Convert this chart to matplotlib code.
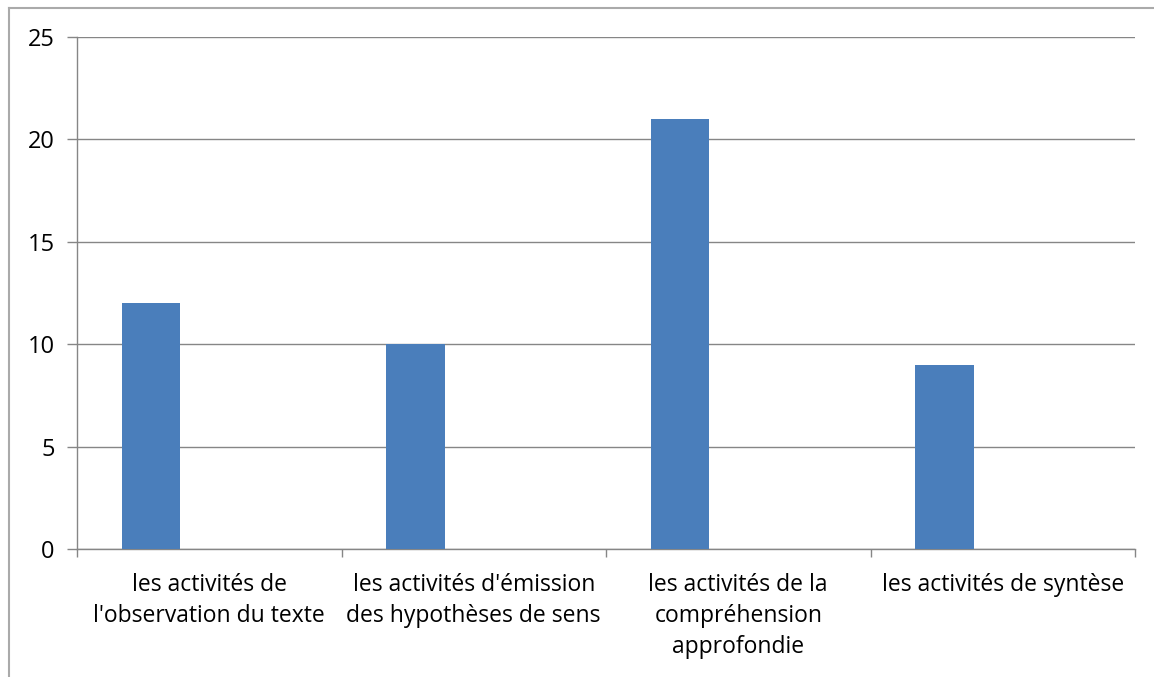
import numpy as np
import matplotlib.pyplot as plt
from matplotlib.lines import Line2D

categories = ["les activités de\nl'observation du texte",
              "les activités d'émission\ndes hypothèses de sens",
              "les activités de la\ncompréhension\napprofondie",
              "les activités de syntèse"]
values = [12, 10, 21, 9]
yticks = [0, 5, 10, 15, 20, 25]

plt.rcParams['font.family'] = ['Open Sans', 'DejaVu Sans']

fig = plt.figure(figsize=(11.54, 6.77), dpi=100)
ax = fig.add_axes([77/1154, 1-549/677, (1135-77)/1154, (549-37)/677])

x = np.arange(len(categories))
ax.bar(x + 0.28, values, width=0.222, color='#4a7ebb', zorder=3)

ax.set_xlim(0, len(categories))
ax.set_ylim(0, 25)
ax.set_yticks(yticks)
ax.set_yticklabels([str(v) for v in yticks], fontsize=17)
ax.yaxis.grid(True, color='#868686', linewidth=1.0, zorder=0)

ax.set_xticks(np.arange(len(categories) + 1))
ax.set_xticklabels([])
ax.set_xticks(x + 0.5, minor=True)
ax.set_xticklabels(categories, minor=True, fontsize=16.5, linespacing=1.4, va='top')
ax.tick_params(axis='x', which='minor', length=0, pad=17)
ax.tick_params(axis='x', which='major', length=6, color='#868686', width=1.0, direction='out')
ax.tick_params(axis='y', length=7, color='#868686', width=1.0, pad=9)

for s in ['top', 'right']:
    ax.spines[s].set_visible(False)
for s in ['left', 'bottom']:
    ax.spines[s].set_color('#868686')
    ax.spines[s].set_linewidth(1.0)

# chart frame (cut off on right and bottom)
fig.add_artist(Line2D([9/1154, 1], [1-8/677, 1-8/677], color='#aaaaaa', lw=1.5, transform=fig.transFigure))
fig.add_artist(Line2D([9/1154, 9/1154], [1-8/677, 0], color='#aaaaaa', lw=1.5, transform=fig.transFigure))

fig.savefig('out.png', dpi=100)
